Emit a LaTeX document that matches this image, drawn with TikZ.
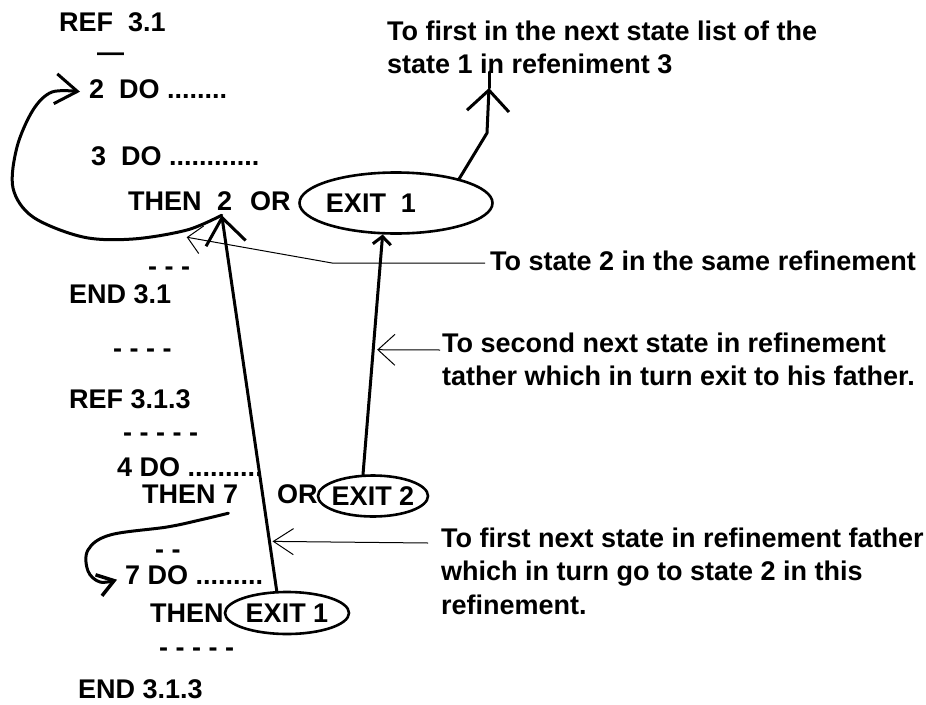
\documentclass[tikz,border=0pt]{standalone}
\usepackage{fontspec}
\setmainfont{Liberation Sans}
\usetikzlibrary{arrows.meta,shapes.geometric,calc}
\begin{document}
\begin{tikzpicture}[x=1pt,y=-1pt,
  every node/.style={inner sep=0pt, font=\fontsize{27}{33}\selectfont\bfseries},
  txt/.style={anchor=base west},
  exitbox/.style={ellipse, draw, line width=2.6pt, inner sep=0pt, inner xsep=-10pt},
  hand/.style={line width=3pt, line cap=round, line join=round},
  note/.style={line width=1pt}
]
\useasboundingbox (0,0) rectangle (926,704);

% ---- refinement 3.1 ----
\node[txt] (ref1) at (59,31) {REF\ \ 3.1};
\node[txt] (bar1) at (97,61) {—};
\node[txt] (do2) at (89,98) {2\ \ DO ........};
\node[txt] (do3) at (91,165) {3\ \ DO ............};
\node[txt] (then2) at (128,210) {THEN};
\node[txt] (two) at (217,210) {2};
\node[txt] (or1) at (250,210) {OR};
\node[exitbox, minimum width=193pt, minimum height=61pt] (exitA) at (396,203) {EXIT\ \ 1\rule{50pt}{0pt}};
\node[txt] (dashA) at (148,275) {- - -};
\node[txt] (end1) at (69,303) {END 3.1};
\node[txt] (dashB) at (113,357) {- - - -};

% ---- refinement 3.1.3 ----
\node[txt] (ref2) at (69,408) {REF 3.1.3};
\node[txt] (dashC) at (123,441) {- - - - -};
\node[txt] (do4) at (117,476) {4 DO ..........};
\node[txt] (then7) at (142,503) {THEN 7};
\node[txt] (or2) at (277,503) {OR};
\node[exitbox, minimum width=110pt, minimum height=41pt] (exitB) at (373,496) {EXIT 2};
\node[txt] (dashD) at (155,558) {- -};
\node[txt] (do7) at (125,584) {7 DO .........};
\node[txt] (then3) at (150,622) {THEN};
\node[exitbox, minimum width=124pt, minimum height=42pt] (exitC) at (287,613) {EXIT 1};
\node[txt] (dashE) at (159,656) {- - - - -};
\node[txt] (end2) at (78,698) {END 3.1.3};

% ---- explanations ----
\node[txt] (labU1) at (387,40) {To first in the next state list of the};
\node[txt] (labU2) at (387,73) {state 1 in refeniment 3};
\node[txt] (labS) at (490,270) {To state 2 in the same refinement};
\node[txt] (labT1) at (442,352) {To second next state in refinement};
\node[txt] (labT2) at (442,385) {tather which in turn exit to his father.};
\node[txt] (labF1) at (441,547) {To first next state in refinement father};
\node[txt] (labF2) at (441,580) {which in turn go to state 2 in this};
\node[txt] (labF3) at (441,614) {refinement.};

% ---- helper points ----
\coordinate (twoin) at ($(two.south)+(-3,5)$);
\coordinate (upbend) at (487,133);
\coordinate (uptip) at (489,88);
\coordinate (upend) at (489,72);

% ---- jumps ----
\draw[hand, -{Straight Barb[length=22pt,width=30pt,line width=3pt]}]
  plot[smooth, tension=0.55] coordinates {(twoin) (187,230) (133,239) (83,237) (33,217)
    (13,188) (17,147) (33,110) (52,92) ($(do2.west)+(-9,3)$)};
\draw[hand, -{Straight Barb[length=26pt,width=40pt,line width=3pt]}] (exitC.115) -- (twoin);
\draw[hand, -{Straight Barb[length=8pt,width=18pt,line width=3pt]}] (exitB.115) -- (exitA.-113);
\draw[hand, -{Straight Barb[length=21pt,width=42pt,line width=3pt]}] (exitA.21) -- (upbend) -- (uptip);
\draw[hand] (uptip) -- (upend);
\draw[hand, -{Straight Barb[length=16pt,width=22pt,line width=3.5pt]}]
  plot[smooth, tension=0.6] coordinates {($(then7.south east)+(-10,10)$) (200,520) (167,527)
    (110,535) (88,550) (88,571) (100,582) ($(do7.west)+(-8,5)$)};

% ---- explanation pointers ----
\coordinate (tipT) at ($(exitB.115)!0.52!(exitA.-113)+(4,0)$);
\coordinate (tipF) at ($(exitC.115)!0.132!(twoin)+(3,0)$);
\draw[note, -{Straight Barb[length=14pt,width=28pt,line width=1pt]}]
  ($(labS.base west)+(-5,-7)$) -- ($(labS.base west)+(-158,-7)$) -- ($(twoin)+(-35,22)$);
\draw[note, -{Straight Barb[length=17pt,width=31pt,line width=1pt]}]
  ($(labT1.base west)+(-2,-2)$) -- (tipT);
\draw[note, -{Straight Barb[length=20pt,width=26pt,line width=1pt]}]
  ($(labF1.base west)+(-13,-4)$) -- (tipF);
\end{tikzpicture}
\end{document}
